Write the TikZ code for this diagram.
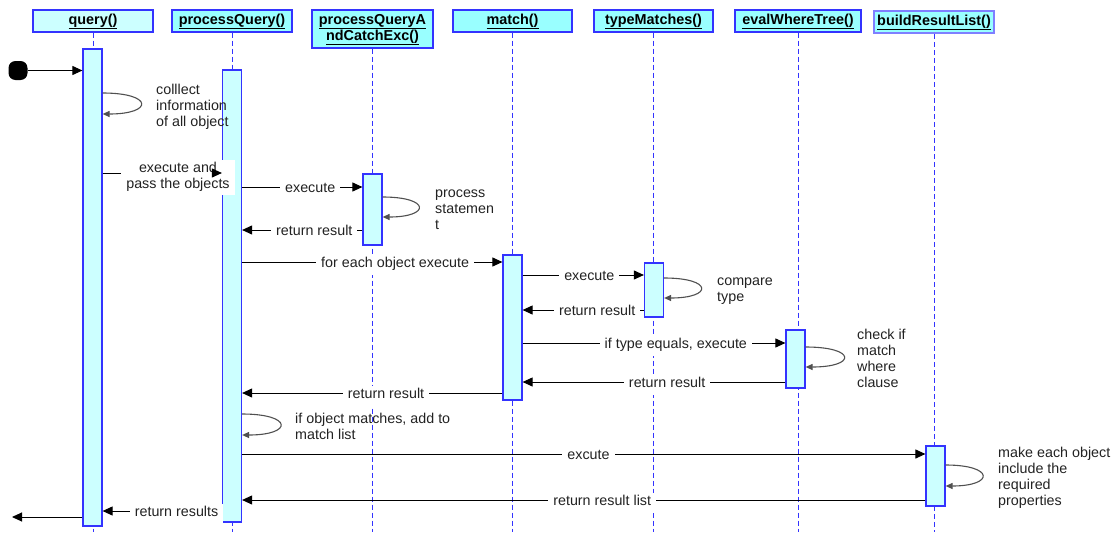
\documentclass[tikz,border=0pt]{standalone}
\usepackage{fontspec}
\setmainfont{Liberation Sans}
\usetikzlibrary{arrows.meta,calc}

\definecolor{edgeblue}{HTML}{3333FF}
\definecolor{softblue}{HTML}{7F7FFF}
\definecolor{headcyan}{HTML}{99FFFF}
\definecolor{barcyan}{HTML}{CCFFFF}
\definecolor{loopgray}{HTML}{505050}
\definecolor{inkgray}{HTML}{222222}

% caption of an object head, set a little below the box centre
\newcommand{\headcap}[1]{\raisebox{-1.5pt}{\begin{tabular}{@{}c@{}}#1\end{tabular}}}

\tikzset{
  head/.style={draw=edgeblue, line width=1.4pt, fill=headcyan, minimum width=120pt,
    minimum height=22pt, inner sep=0pt, align=center,
    font=\fontsize{14.4pt}{16pt}\selectfont\bfseries, text=black},
  life/.style={draw=edgeblue, line width=0.8pt, dash pattern=on 5pt off 3pt},
  actbar/.style={draw=edgeblue, line width=1.2pt, fill=barcyan, minimum width=19pt,
    inner sep=0pt},
  msg/.style={draw=black, line width=1pt, -{Triangle[length=10pt,width=9pt]}},
  selfcall/.style={draw=loopgray, line width=1.1pt, -{Triangle[length=7pt,width=6pt]}},
  lab/.style={fill=white, inner xsep=5pt, inner ysep=2pt, text=inkgray, yshift=-2.5pt,
    font=\fontsize{14.3pt}{16pt}\selectfont, execute at begin node=\strut},
  note/.style={anchor=north west, inner sep=0pt, align=left, text=inkgray,
    font=\fontsize{14.3pt}{16pt}\selectfont, execute at begin node=\strut},
  start/.style={fill=black, rounded corners=7pt, minimum size=19pt, inner sep=0pt}
}

\begin{document}
\begin{tikzpicture}[x=1pt, y=-1pt]
\useasboundingbox (0,0) rectangle (1119,533);

% object heads
\node[head, fill=barcyan] (hq) at (93,21) {\headcap{\underline{query()}}};
\node[head] (hp) at (232,21) {\headcap{\underline{processQuery()}}};
\node[head, minimum width=121pt, minimum height=38pt] (hc) at (372.5,29)
  {\headcap{\underline{processQueryA}\\\underline{ndCatchExc()}}};
\node[head, minimum width=119pt] (hm) at (512.5,21) {\headcap{\underline{match()}}};
\node[head, minimum width=119pt] (ht) at (653.5,21) {\headcap{\underline{typeMatches()}}};
\node[head, minimum width=126pt] (he) at (798,21) {\headcap{\underline{evalWhereTree()}}};
\node[head, draw=softblue, line width=2pt] (hb) at (934,22) {\headcap{\underline{buildResultList()}}};

% lifelines
\foreach \h in {hq,hp,hc,hm,ht,he,hb}
  \draw[life] (\h.south) -- (\h.south |- 0,532);

% activation bars
\node[actbar, minimum height=477pt] (qbar) at (92.5,287.5) {};
\node[actbar, minimum height=452pt] (pbar) at (232,296)    {};
\node[actbar, minimum height=71pt]  (cbar) at (372.5,209.5) {};
\node[actbar, minimum height=145pt] (mbar) at (512.5,327.5) {};
\node[actbar, minimum height=54pt]  (tbar) at (654,290)    {};
\node[actbar, minimum height=58pt]  (ebar) at (795.5,359)  {};
\node[actbar, minimum height=60pt]  (bbar) at (935.5,476)  {};

% entry and exit
\node[start] (start) at (18,70.5) {};
\draw[msg] (start.east) -- (qbar.west |- start.east);
\coordinate (exit) at (12,517);
\draw[msg] (qbar.west |- exit) -- (exit);

% self calls
\draw[selfcall] (qbar.east |- 0,93) .. controls +(51,0) and +(51,0) .. (qbar.east |- 0,114);
\node[note] (nq) at (156,84) {colllect\\information\\of all object};

\draw[selfcall] (cbar.east |- 0,197) .. controls +(48,0) and +(48,0) .. (cbar.east |- 0,217);
\node[note] (nc) at (435,189.5) {process\\statemen\\t};

\draw[selfcall] (tbar.east |- 0,278) .. controls +(49,0) and +(49,0) .. (tbar.east |- 0,298);
\node[note] (nt) at (717,277.5) {compare\\type};

\draw[selfcall] (ebar.east |- 0,347) .. controls +(51,0) and +(51,0) .. (ebar.east |- 0,367);
\node[note] (ne) at (857,329) {check if\\match\\where\\clause};

\draw[selfcall] (pbar.east |- 0,414) .. controls +(51,0) and +(51,0) .. (pbar.east |- 0,435);
\node[note] (np) at (295,413) {if object matches, add to\\match list};

\draw[selfcall] (bbar.east |- 0,465) .. controls +(49,0) and +(49,0) .. (bbar.east |- 0,486);
\node[note] (nb) at (998,447) {make each object\\include the\\required\\properties};

% messages
\draw[msg] (qbar.east |- 0,173) -- (pbar.west |- 0,173);
\node[lab, align=center] (lpass) at (178,175) {execute and\\pass the objects};
\coordinate (tipfrom) at (212,173);
\draw[msg] (tipfrom) -- (pbar.west |- tipfrom);

\draw[msg] (pbar.east |- 0,187) -- node[lab, pos=0.566] (l1) {execute} (cbar.west |- 0,187);
\draw[msg] (cbar.west |- 0,230) -- node[lab, pos=0.40] (l2) {return result} (pbar.east |- 0,230);
\draw[msg] (pbar.east |- 0,262) -- node[lab, pos=0.588] (l3) {for each object execute} (mbar.west |- 0,262);
\draw[msg] (mbar.east |- 0,275) -- node[lab, pos=0.55] (l4) {execute} (tbar.west |- 0,275);
\draw[msg] (tbar.west |- 0,310) -- node[lab, pos=0.385] (l5) {return result} (mbar.east |- 0,310);
\draw[msg] (mbar.east |- 0,343) -- node[lab, pos=0.583] (l6) {if type equals, execute} (ebar.west |- 0,343);
\draw[msg] (ebar.west |- 0,382) -- node[lab, pos=0.45] (l7) {return result} (mbar.east |- 0,382);
\draw[msg] (mbar.west |- 0,393) -- node[lab, pos=0.447] (l8) {return result} (pbar.east |- 0,393);
\draw[msg] (pbar.east |- 0,454) -- node[lab, pos=0.507] (l9) {excute} (bbar.west |- 0,454);
\draw[msg] (bbar.west |- 0,500) -- node[lab, pos=0.473] (l10) {return result list} (pbar.east |- 0,500);
\draw[msg] (pbar.west |- 0,511) -- node[lab, pos=0.38] (l11) {return results} (qbar.east |- 0,511);
\end{tikzpicture}
\end{document}
